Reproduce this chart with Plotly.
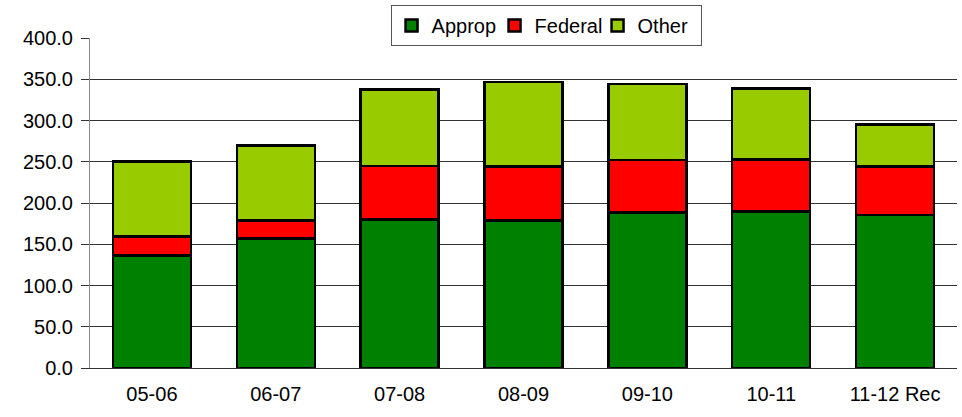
import plotly.graph_objects as go

categories = ["05-06", "06-07", "07-08", "08-09", "09-10", "10-11", "11-12 Rec"]
approp = [136.6, 157.0, 180.0, 178.5, 188.5, 190.0, 185.5]
federal = [22.5, 22.0, 65.0, 66.0, 63.5, 63.0, 58.7]
other = [91.0, 91.0, 92.7, 102.0, 92.0, 85.6, 51.0]
y_ticks = [0, 50, 100, 150, 200, 250, 300, 350, 400]

series = [("Approp", approp, "#008000"), ("Federal", federal, "#ff0000"), ("Other", other, "#99cc00")]

fig = go.Figure()
for name, vals, col in series:
    fig.add_trace(go.Bar(
        x=categories, y=vals, name=name,
        marker=dict(color=col, line=dict(color="black", width=2.5)),
    ))

fig.update_layout(
    barmode="stack",
    bargap=0.37,
    width=962, height=417,
    margin=dict(l=90, r=5, t=38, b=49),
    plot_bgcolor="white",
    paper_bgcolor="white",
    font=dict(family="Liberation Sans, Arial, sans-serif", size=20, color="black"),
    showlegend=True,
    legend=dict(
        orientation="h", x=0.526, xanchor="center", y=1.1, yanchor="top",
        traceorder="normal",
        bordercolor="#555555", borderwidth=1, bgcolor="white",
        font=dict(size=20), itemwidth=30, tracegroupgap=0,
        entrywidth=58, entrywidthmode="pixels",
    ),
    xaxis=dict(type="category", showgrid=False, ticks="", showline=True,
               linecolor="#333333", linewidth=1, tickfont=dict(size=20),
               ticklabelstandoff=8, automargin=False),
    yaxis=dict(range=[0, 400], tickvals=y_ticks, tickformat=".1f",
               showgrid=True, gridcolor="#333333", gridwidth=1,
               showline=True, linecolor="#888888", linewidth=1,
               ticks="outside", ticklen=8, tickcolor="#333333",
               ticklabelstandoff=4, automargin=False,
               tickfont=dict(size=20), zeroline=False),
)

fig.write_html("out.html", config={"displayModeBar": False},
               post_script="document.body.style.margin='0';")
